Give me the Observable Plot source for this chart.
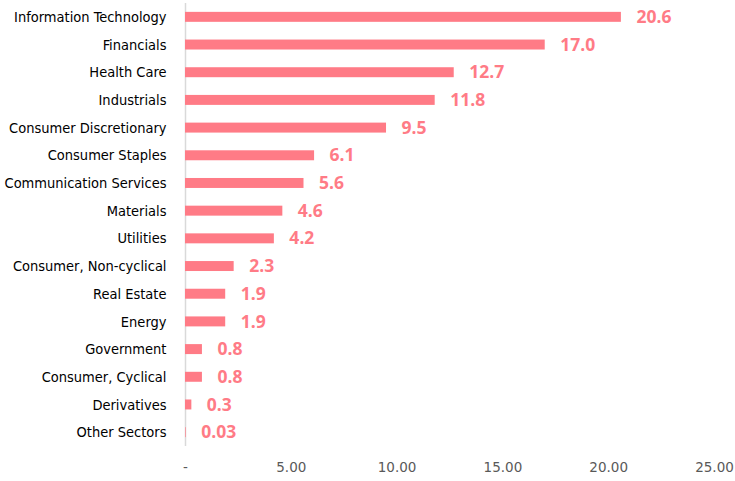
<!DOCTYPE html>
<html>
<head>
<meta charset="utf-8">
<script src="https://cdn.jsdelivr.net/npm/d3@7"></script>
<script src="https://cdn.jsdelivr.net/npm/@observablehq/plot@0.6"></script>
<style>
  html, body { margin: 0; padding: 0; background: #fff; }
  #chart svg { display: block; }
</style>
</head>
<body>
<div id="chart"></div>
<script>
const sectors = [
  "Information Technology", "Financials", "Health Care", "Industrials",
  "Consumer Discretionary", "Consumer Staples", "Communication Services",
  "Materials", "Utilities", "Consumer, Non-cyclical", "Real Estate", "Energy",
  "Government", "Consumer, Cyclical", "Derivatives", "Other Sectors"
];
const weights = [20.6, 17.0, 12.7, 11.8, 9.5, 6.1, 5.6, 4.6, 4.2, 2.3, 1.9, 1.9, 0.8, 0.8, 0.3, 0.03];
const valueLabels = ["20.6", "17.0", "12.7", "11.8", "9.5", "6.1", "5.6", "4.6", "4.2", "2.3", "1.9", "1.9", "0.8", "0.8", "0.3", "0.03"];
const xTicks = [0, 5, 10, 15, 20, 25];

const data = sectors.map((s, i) => ({sector: s, value: weights[i], label: valueLabels[i]}));
const pink = "#FF7B86";

const chart = Plot.plot({
  width: 735,
  height: 481,
  marginLeft: 185,
  marginRight: 21,
  marginTop: 3,
  marginBottom: 35,
  x: {domain: [0, 25], ticks: xTicks, axis: null},
  y: {domain: sectors, paddingInner: 0.64, paddingOuter: 0.32, round: false, axis: null},
  style: {background: "#fff"},
  marks: [
    Plot.ruleX([0], {stroke: "#D9D9D9", strokeWidth: 1.5}),
    Plot.barX(data, {x: "value", y: "sector", fill: pink}),
    Plot.text(data, {
      x: "value", y: "sector", text: "label", textAnchor: "start", dx: 15,
      fill: pink, fontSize: 17.5, fontWeight: 700, fontFamily: "'Open Sans', sans-serif"
    }),
    Plot.axisY({
      tickSize: 0, tickPadding: 19, label: null,
      fontSize: 14.5, fontFamily: "'DejaVu Sans Condensed', 'DejaVu Sans', sans-serif",
      fill: "#000", stroke: "#000", strokeWidth: 0.35
    }),
    Plot.axisX({
      ticks: xTicks, tickSize: 0, tickPadding: 16, label: null,
      tickFormat: d => d === 0 ? "-" : d.toFixed(2),
      fontSize: 13.5, fontFamily: "'DejaVu Sans', sans-serif", fill: "#595959"
    })
  ]
});
document.getElementById("chart").appendChild(chart);
</script>
</body>
</html>
